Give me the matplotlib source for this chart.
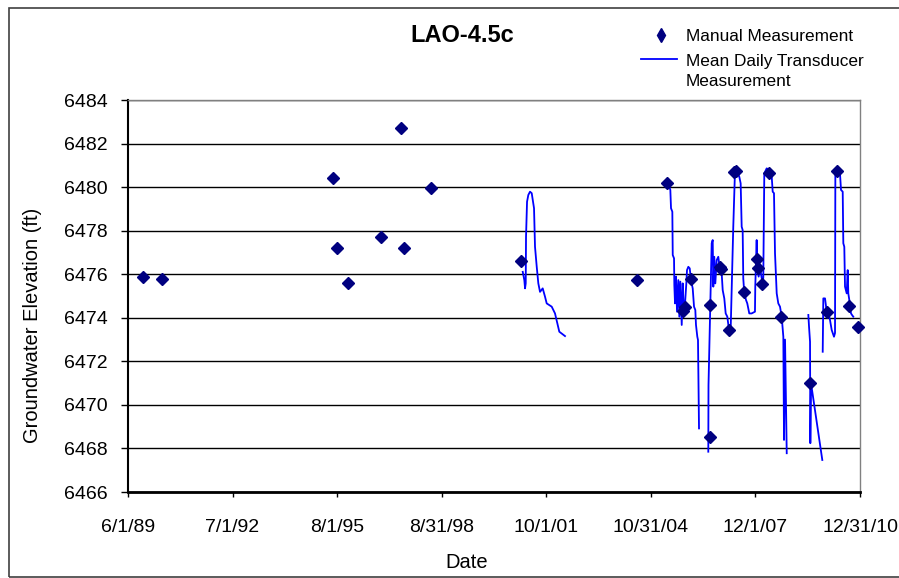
import datetime as dt
import numpy as np
import pandas as pd
import matplotlib
matplotlib.use("Agg")
import matplotlib.pyplot as plt
from matplotlib.lines import Line2D
from matplotlib.patches import Rectangle

plt.rcParams['font.family'] = ['Liberation Sans', 'DejaVu Sans']

# ---------------- data ----------------
title = "LAO-4.5c"
x_label = "Date"
y_label = "Groundwater Elevation (ft)"
legend_labels = ["Manual Measurement", "Mean Daily Transducer\nMeasurement"]
x_tick_labels = ["6/1/89", "7/1/92", "8/1/95", "8/31/98", "10/1/01",
                 "10/31/04", "12/1/07", "12/31/10"]
y_ticks = [6466, 6468, 6470, 6472, 6474, 6476, 6478, 6480, 6482, 6484]

# manual measurements (decimal year, elevation ft)
manual_years = [1989.847, 1990.425, 1995.450, 1995.568, 1995.892, 1996.865,
                1997.455, 1997.552, 1998.339, 2000.993, 2004.413, 2005.298,
                2005.763, 2005.837, 2006.005, 2006.574, 2006.574, 2006.869,
                2006.898, 2007.125, 2007.290, 2007.330, 2007.577, 2007.951,
                2007.998, 2008.122, 2008.323, 2008.668, 2009.523, 2010.024,
                2010.319, 2010.667, 2010.947]
manual_vals = [6475.89, 6475.78, 6480.42, 6477.20, 6475.60, 6477.72,
               6482.73, 6477.19, 6479.96, 6476.61, 6475.73, 6480.17,
               6474.33, 6474.51, 6475.77, 6474.60, 6468.52, 6476.32,
               6476.24, 6473.44, 6480.68, 6480.72, 6475.20, 6476.70,
               6476.28, 6475.54, 6480.63, 6474.03, 6471.02, 6474.25,
               6480.72, 6474.56, 6473.59]

# mean daily transducer measurements, one list per recording period
seg1_years = [2001.052, 2001.099, 2001.120, 2001.140, 2001.149, 2001.179,
              2001.217, 2001.267, 2001.317, 2001.385, 2001.414, 2001.465,
              2001.512, 2001.562, 2001.641, 2001.709, 2001.759, 2001.907,
              2002.004, 2002.072, 2002.131, 2002.299]
seg1_vals = [6476.11, 6475.73, 6475.35, 6475.58, 6477.72, 6479.33,
             6479.64, 6479.79, 6479.72, 6479.03, 6477.26, 6476.34,
             6475.58, 6475.19, 6475.35, 6474.97, 6474.66, 6474.51,
             6474.20, 6473.75, 6473.36, 6473.16]

seg2_years = [2005.327, 2005.374, 2005.404, 2005.424, 2005.463, 2005.475,
              2005.513, 2005.522, 2005.542, 2005.572, 2005.601, 2005.640,
              2005.669, 2005.699, 2005.740, 2005.769, 2005.799, 2005.837,
              2005.876, 2005.896, 2005.935, 2005.976, 2006.014, 2006.064,
              2006.103, 2006.141, 2006.161, 2006.200, 2006.220, 2006.250]
seg2_vals = [6480.10, 6480.02, 6479.87, 6479.03, 6478.87, 6476.88,
             6476.73, 6475.50, 6474.66, 6475.89, 6474.28, 6475.73,
             6474.05, 6475.66, 6473.67, 6475.58, 6474.36, 6474.66,
             6475.58, 6476.19, 6476.34, 6476.27, 6475.73, 6475.35,
             6474.51, 6474.36, 6473.67, 6473.13, 6472.98, 6468.92]

seg3_years = [2006.524, 2006.530, 2006.624, 2006.654, 2006.672, 2006.701,
              2006.731, 2006.772, 2006.819, 2006.869, 2006.919, 2006.949,
              2006.996, 2007.037, 2007.085, 2007.135, 2007.185, 2007.261,
              2007.311, 2007.391, 2007.438, 2007.479, 2007.509, 2007.538,
              2007.556, 2007.586, 2007.636, 2007.674, 2007.704, 2007.733,
              2007.804, 2007.901, 2007.910, 2007.951, 2007.969, 2008.010,
              2008.049, 2008.099, 2008.146, 2008.176, 2008.246, 2008.343,
              2008.394, 2008.423, 2008.461, 2008.491, 2008.541, 2008.588,
              2008.638, 2008.688, 2008.736, 2008.756, 2008.786, 2008.836]
seg3_vals = [6467.85, 6470.91, 6477.42, 6477.57, 6475.43, 6476.80,
             6475.58, 6476.65, 6476.80, 6476.19, 6476.04, 6475.27,
             6474.89, 6474.20, 6474.05, 6473.44, 6473.52, 6478.18,
             6480.71, 6480.63, 6480.48, 6480.17, 6478.18, 6478.03,
             6475.81, 6475.12, 6474.82, 6474.66, 6474.43, 6474.20,
             6474.20, 6474.28, 6475.43, 6477.57, 6476.19, 6475.89,
             6476.34, 6475.81, 6475.81, 6480.63, 6480.86, 6480.78,
             6480.48, 6479.79, 6479.72, 6476.96, 6475.12, 6474.66,
             6474.51, 6474.05, 6473.13, 6468.39, 6473.00, 6467.78]

seg4_years = [2009.473, 2009.493, 2009.523, 2009.532, 2009.552, 2009.885]
seg4_vals = [6474.13, 6473.60, 6472.90, 6468.24, 6471.00, 6467.47]

seg5_years = [2009.897, 2009.915, 2009.965, 2010.015, 2010.063, 2010.112,
              2010.162, 2010.230, 2010.260, 2010.270, 2010.310, 2010.407,
              2010.437, 2010.487, 2010.505, 2010.534, 2010.555, 2010.605,
              2010.634, 2010.652, 2010.682, 2010.702, 2010.732, 2010.761,
              2010.799]
seg5_vals = [6472.44, 6474.89, 6474.89, 6474.28, 6474.20, 6473.90,
             6473.44, 6473.13, 6473.30, 6480.56, 6480.78, 6480.63,
             6479.87, 6479.79, 6477.42, 6477.26, 6475.43, 6475.12,
             6476.19, 6475.12, 6474.82, 6474.51, 6474.20, 6474.13,
             6474.05]

transducer_segments = [(seg1_years, seg1_vals), (seg2_years, seg2_vals),
                       (seg3_years, seg3_vals), (seg4_years, seg4_vals),
                       (seg5_years, seg5_vals)]


def dec_to_date(y):
    yr = int(np.floor(y))
    start = dt.datetime(yr, 1, 1)
    end = dt.datetime(yr + 1, 1, 1)
    return start + (y - yr) * (end - start)


tick_dates = pd.to_datetime(x_tick_labels, format="%m/%d/%y")

# ---------------- figure ----------------
W, H = 899, 578
fig = plt.figure(figsize=(W / 100, H / 100), dpi=100)
fig.patch.set_facecolor("white")
ax = fig.add_axes([128 / W, (H - 492) / H, 732 / W, 392 / H])

line_color = "#0000FF"
marker_color = "#000080"

for yrs, vals in transducer_segments:
    ax.plot([dec_to_date(v) for v in yrs], vals, color=line_color,
            linewidth=1.3, zorder=3)

ax.plot([dec_to_date(v) for v in manual_years], manual_vals, linestyle="none",
        marker="D", markersize=6.3, color=marker_color,
        markeredgecolor=marker_color, zorder=4, clip_on=False)

ax.set_xlim(tick_dates[0], tick_dates[-1])
ax.set_ylim(y_ticks[0], y_ticks[-1])
ax.set_xticks(tick_dates)
ax.set_xticklabels(x_tick_labels)
ax.set_yticks(y_ticks)
ax.set_yticklabels([str(v) for v in y_ticks])

ax.tick_params(axis="both", direction="out", width=1.0,
               color="black", labelsize=14, labelcolor="black")
ax.tick_params(axis="x", length=3.8, pad=15.5)
ax.tick_params(axis="y", length=5.0, pad=9.4)

ax.yaxis.grid(True, color="black", linewidth=1.0)
ax.xaxis.grid(False)
ax.set_axisbelow(True)

for side in ("top", "right"):
    ax.spines[side].set_color("#808080")
    ax.spines[side].set_linewidth(1.0)
ax.spines["left"].set_color("black")
ax.spines["left"].set_linewidth(1.5)
ax.spines["bottom"].set_color("black")
ax.spines["bottom"].set_linewidth(2.0)

ax.set_xlabel(x_label, fontsize=14.5)
ax.xaxis.set_label_coords((467 - 128) / 732, (492 - 553) / 392)
ax.set_ylabel(y_label, fontsize=14.5)
ax.yaxis.set_label_coords((42.5 - 128) / 732, (492 - 325) / 392)

# title
fig.text(462.5 / W, 1 - 35 / H, title, ha="center", va="center",
         fontsize=17, fontweight="bold")

# legend (drawn to match the reference layout)
fig.add_artist(Line2D([661 / W], [1 - 35 / H], marker="d", markersize=7.0,
                      color=marker_color, linestyle="none",
                      transform=fig.transFigure))
fig.add_artist(Line2D([641 / W, 677 / W], [1 - 59 / H, 1 - 59 / H],
                      color=line_color, linewidth=1.3,
                      transform=fig.transFigure))
fig.text(686 / W, 1 - 41 / H, legend_labels[0], ha="left", va="baseline",
         fontsize=12.4)
lines2 = legend_labels[1].split("\n")
fig.text(686 / W, 1 - 66 / H, lines2[0], ha="left", va="baseline",
         fontsize=12.4)
fig.text(686 / W, 1 - 86 / H, lines2[1], ha="left", va="baseline",
         fontsize=12.4)

# outer chart border
fig.add_artist(Rectangle((9 / W, 1.5 / H), 1.0, 1 - 9.5 / H, fill=False,
                         edgecolor="#404040", linewidth=1.2,
                         transform=fig.transFigure))

fig.savefig("out.png", dpi=100, facecolor="white")
